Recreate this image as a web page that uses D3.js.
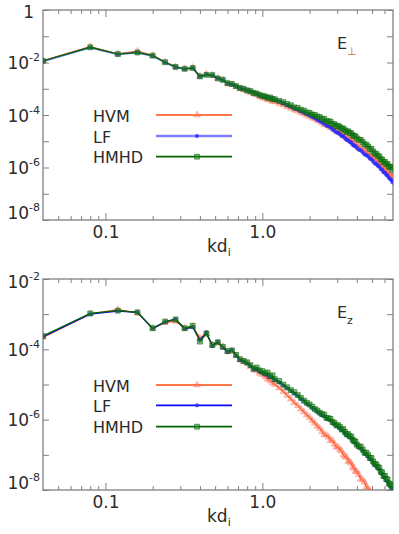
<!DOCTYPE html>
<html>
<head>
<meta charset="utf-8">
<script src="https://cdn.jsdelivr.net/npm/d3@7"></script>
<style>
  html, body { margin: 0; padding: 0; background: #fff; }
  svg { display: block; font-family: "DejaVu Sans", sans-serif; }
</style>
</head>
<body>
<div id="chart"></div>
<script>
// k d_i sample points (every mode at low k, thinned at high k)
const K = [
  0.04, 0.08, 0.12, 0.16, 0.20, 0.24, 0.28, 0.32, 0.36, 0.40,
  0.44, 0.48, 0.52, 0.56, 0.60, 0.64, 0.68, 0.72, 0.76, 0.80,
  0.84, 0.88, 0.92, 0.96, 1.00, 1.04, 1.08, 1.12, 1.16, 1.20,
  1.28, 1.36, 1.44, 1.52, 1.60, 1.68, 1.76, 1.84, 1.92, 2.00,
  2.08, 2.16, 2.24, 2.32, 2.40,
  2.48, 2.56, 2.64, 2.72, 2.80, 2.88, 2.96, 3.04, 3.12, 3.20,
  3.28, 3.36, 3.44, 3.52, 3.60, 3.68, 3.76, 3.84, 3.92, 4.00,
  4.12, 4.24, 4.36, 4.48, 4.60, 4.72, 4.84, 4.96, 5.08, 5.20, 5.32, 5.44,
  5.56, 5.68, 5.80, 5.92, 6.04, 6.16, 6.28, 6.40, 6.52, 6.64, 6.76
];

// log10 of spectral power — E perp panel
const PERP_HVM = [
  -1.93, -1.40, -1.67, -1.57, -1.73, -1.98, -2.16, -2.24, -2.19, -2.52,
  -2.45, -2.48, -2.60, -2.66, -2.80, -2.84, -2.92, -3.00, -3.04, -3.10,
  -3.14, -3.20, -3.23, -3.30, -3.34, -3.37, -3.42, -3.43, -3.48, -3.50,
  -3.56, -3.62, -3.69, -3.74, -3.81, -3.85, -3.91, -3.95, -4.01, -4.05,
  -4.11, -4.14, -4.20, -4.24, -4.30,
  -4.37, -4.36, -4.42, -4.49, -4.48, -4.56, -4.62, -4.62, -4.68, -4.69,
  -4.78, -4.81, -4.83, -4.92, -4.92, -4.94, -5.03, -5.06, -5.13, -5.12,
  -5.19, -5.29, -5.31, -5.34, -5.44, -5.48, -5.50, -5.60, -5.67, -5.67, -5.74, -5.82,
  -5.83, -5.94, -5.96, -6.00, -6.09, -6.12, -6.21, -6.21, -6.28, -6.36, -6.38
];
const PERP_LF = [
  -1.95, -1.43, -1.69, -1.62, -1.75, -2.00, -2.18, -2.25, -2.21, -2.54,
  -2.46, -2.49, -2.60, -2.67, -2.80, -2.83, -2.90, -2.98, -3.01, -3.07,
  -3.10, -3.15, -3.19, -3.25, -3.28, -3.31, -3.33, -3.36, -3.39, -3.42,
  -3.48, -3.55, -3.62, -3.68, -3.75, -3.79, -3.86, -3.91, -3.97, -4.02,
  -4.08, -4.12, -4.19, -4.23, -4.29,
  -4.33, -4.41, -4.43, -4.47, -4.55, -4.59, -4.66, -4.68, -4.73, -4.80,
  -4.81, -4.89, -4.95, -4.97, -5.02, -5.05, -5.13, -5.17, -5.19, -5.26,
  -5.32, -5.35, -5.42, -5.50, -5.53, -5.58, -5.66, -5.69, -5.77, -5.84, -5.87, -5.93,
  -5.97, -6.06, -6.09, -6.18, -6.20, -6.28, -6.31, -6.39, -6.44, -6.48, -6.57
];
const PERP_HMHD = [
  -1.94, -1.42, -1.68, -1.62, -1.74, -1.99, -2.17, -2.24, -2.21, -2.53,
  -2.47, -2.48, -2.61, -2.66, -2.79, -2.82, -2.90, -2.97, -3.00, -3.06,
  -3.09, -3.16, -3.18, -3.24, -3.27, -3.29, -3.34, -3.33, -3.39, -3.40,
  -3.46, -3.51, -3.58, -3.63, -3.71, -3.73, -3.80, -3.83, -3.90, -3.92,
  -3.98, -4.00, -4.06, -4.08, -4.14,
  -4.15, -4.24, -4.24, -4.25, -4.34, -4.35, -4.42, -4.41, -4.46, -4.52,
  -4.51, -4.58, -4.64, -4.62, -4.68, -4.69, -4.77, -4.80, -4.81, -4.89,
  -4.94, -4.95, -5.03, -5.12, -5.13, -5.20, -5.29, -5.29, -5.39, -5.47, -5.48, -5.55,
  -5.58, -5.68, -5.70, -5.79, -5.79, -5.87, -5.87, -5.96, -5.98, -6.00, -6.09
];

// log10 of spectral power — E_z panel
const Z_HVM = [
  -3.66, -2.99, -2.87, -2.96, -3.40, -3.24, -3.20, -3.40, -3.35, -3.68,
  -3.56, -3.87, -3.82, -3.92, -4.06, -4.05, -4.18, -4.30, -4.36, -4.40,
  -4.49, -4.58, -4.60, -4.68, -4.72, -4.78, -4.85, -4.89, -4.95, -5.00,
  -5.10, -5.20, -5.31, -5.41, -5.52, -5.60, -5.70, -5.78, -5.87, -5.94,
  -6.03, -6.10, -6.19, -6.25, -6.34,
  -6.43, -6.44, -6.50, -6.59, -6.60, -6.70, -6.78, -6.78, -6.86, -6.89,
  -7.00, -7.05, -7.07, -7.18, -7.20, -7.24, -7.35, -7.38, -7.47, -7.48,
  -7.56, -7.69, -7.72, -7.78, -7.91, -7.97, -8.02, -8.14, -8.24, -8.27, -8.36, -8.47,
  -8.50, -8.64, -8.69, -8.75, -8.87, -8.92, -9.04, -9.07, -9.16, -9.27, -9.31
];
const Z_LF = [
  -3.64, -3.00, -2.91, -2.95, -3.41, -3.22, -3.14, -3.42, -3.37, -3.74,
  -3.52, -3.91, -3.79, -3.95, -4.08, -4.02, -4.18, -4.31, -4.34, -4.40,
  -4.47, -4.57, -4.56, -4.63, -4.66, -4.71, -4.74, -4.79, -4.81, -4.87,
  -4.94, -5.03, -5.11, -5.18, -5.26, -5.32, -5.41, -5.47, -5.55, -5.59,
  -5.67, -5.71, -5.78, -5.82, -5.88,
  -5.90, -5.97, -5.99, -6.02, -6.09, -6.12, -6.18, -6.20, -6.24, -6.30,
  -6.31, -6.38, -6.44, -6.45, -6.50, -6.52, -6.59, -6.64, -6.66, -6.73,
  -6.79, -6.82, -6.89, -6.97, -6.99, -7.05, -7.12, -7.14, -7.23, -7.29, -7.32, -7.38,
  -7.42, -7.51, -7.54, -7.63, -7.65, -7.73, -7.75, -7.84, -7.88, -7.93, -8.01
];
const Z_HMHD = [
  -3.62, -2.98, -2.90, -2.95, -3.40, -3.21, -3.15, -3.40, -3.33, -3.78,
  -3.55, -3.88, -3.80, -3.93, -4.05, -4.03, -4.16, -4.28, -4.33, -4.37,
  -4.45, -4.55, -4.52, -4.60, -4.62, -4.68, -4.66, -4.76, -4.74, -4.85,
  -4.90, -5.00, -5.08, -5.16, -5.22, -5.30, -5.38, -5.46, -5.52, -5.57,
  -5.63, -5.70, -5.74, -5.80, -5.84,
  -5.86, -5.95, -5.96, -5.98, -6.07, -6.09, -6.16, -6.16, -6.21, -6.28,
  -6.27, -6.35, -6.42, -6.41, -6.47, -6.48, -6.57, -6.61, -6.62, -6.71,
  -6.76, -6.77, -6.85, -6.94, -6.94, -7.01, -7.09, -7.09, -7.19, -7.26, -7.27, -7.34,
  -7.37, -7.48, -7.50, -7.60, -7.60, -7.69, -7.70, -7.81, -7.84, -7.88, -7.98
];

const X_MAJOR = [0.1, 1];
const X_MINOR = [0.05, 0.06, 0.07, 0.08, 0.09, 0.2, 0.3, 0.4, 0.5, 0.6, 0.7, 0.8, 0.9, 2, 3, 4, 5, 6];
const PERP_DECADES = [1e-8, 1e-7, 1e-6, 1e-5, 1e-4, 1e-3, 1e-2, 1e-1, 1];
const Z_DECADES = [1e-8, 1e-7, 1e-6, 1e-5, 1e-4, 1e-3, 1e-2];
const NAMES = ["HVM", "LF", "HMHD"];

const W = 399, H = 534;
const L = 43, R = 393;
const svg = d3.select("#chart").append("svg").attr("width", W).attr("height", H);
const x = d3.scaleLog().domain([0.04, 6.8]).range([L, R]);
const frame = "#808080", ink = "#2b2b2b";

function panel(o) {
  const y = d3.scaleLog().domain(o.domain).range([o.bottom, o.top]);
  const g = svg.append("g");

  g.append("defs").append("clipPath").attr("id", o.id)
    .append("rect").attr("x", L).attr("y", o.top).attr("width", R - L).attr("height", o.bottom - o.top);

  const styleAxis = a => {
    a.select(".domain").remove();
    a.selectAll("line").attr("stroke", frame).attr("stroke-width", 1);
  };

  // x ticks, bottom and top
  g.append("g").attr("transform", `translate(0,${o.bottom})`)
    .call(d3.axisBottom(x).tickValues(X_MINOR).tickSize(-4).tickFormat("")).call(styleAxis);
  const xb = g.append("g").attr("transform", `translate(0,${o.bottom})`)
    .call(d3.axisBottom(x).tickValues(X_MAJOR).tickSize(-7).tickFormat(d3.format(".1f"))).call(styleAxis);
  xb.selectAll("text").attr("y", 18).attr("dy", 0).attr("font-size", 17)
    .attr("font-family", "DejaVu Sans").attr("fill", ink);
  g.append("g").attr("transform", `translate(0,${o.top})`)
    .call(d3.axisTop(x).tickValues(X_MINOR).tickSize(-4).tickFormat("")).call(styleAxis);
  g.append("g").attr("transform", `translate(0,${o.top})`)
    .call(d3.axisTop(x).tickValues(X_MAJOR).tickSize(-7).tickFormat("")).call(styleAxis);

  // y ticks, left (labelled every other decade) and right
  const lo = Math.round(Math.log10(o.domain[0])), hi = Math.round(Math.log10(o.domain[1]));
  const yl = g.append("g").attr("transform", `translate(${L},0)`)
    .call(d3.axisLeft(y).tickValues(o.decades).tickSize(-6)
      .tickFormat(d => Math.round(Math.log10(d)) % 2 === 0 ? "10" : "")).call(styleAxis);
  yl.selectAll("text").attr("font-size", 17).attr("font-family", "DejaVu Sans").attr("fill", ink)
    .attr("dy", 0)
    .each(function (d) {
      const e = Math.round(Math.log10(d));
      const t = d3.select(this);
      if (e % 2 !== 0) return;
      t.attr("y", e === lo ? -2 : e === hi ? 8 : 6);
      if (e === 0) { t.text("1").attr("x", -9).attr("y", 7); return; }
      t.append("tspan").attr("dy", -8).attr("font-size", 11).text("-" + Math.abs(e));
    });
  g.append("g").attr("transform", `translate(${R},0)`)
    .call(d3.axisRight(y).tickValues(o.decades).tickSize(-6).tickFormat("")).call(styleAxis);

  g.append("rect").attr("x", L).attr("y", o.top).attr("width", R - L).attr("height", o.bottom - o.top)
    .attr("fill", "none").attr("stroke", frame).attr("stroke-width", 1.3);

  // data
  const line = d3.line().x(d => x(d[0])).y(d => y(Math.pow(10, d[1])));
  const plot = g.append("g").attr("clip-path", `url(#${o.id})`);
  o.series.forEach(s => {
    const pts = d3.zip(K, s.vals);
    plot.append("path").datum(pts).attr("fill", "none").attr("stroke", s.color)
      .attr("stroke-width", s.width).attr("d", line);
    plot.append("g").selectAll("path").data(pts).join("path")
      .attr("transform", d => `translate(${x(d[0])},${y(Math.pow(10, d[1]))})`)
      .attr("d", d3.symbol().type(s.sym).size(s.size))
      .attr("fill", s.fill).attr("stroke", s.stroke).attr("stroke-width", 0.8);
  });

  // legend
  o.series.forEach((s, i) => {
    const ly = o.legendY[i];
    g.append("text").attr("x", 93).attr("y", ly + 6.5).attr("font-size", 16).attr("fill", ink).text(NAMES[i]);
    g.append("line").attr("x1", 156).attr("x2", 232).attr("y1", ly).attr("y2", ly)
      .attr("stroke", s.color).attr("stroke-width", s.width + 0.4);
    g.append("path").attr("transform", `translate(197,${ly})`)
      .attr("d", d3.symbol().type(s.sym).size(s.size))
      .attr("fill", s.fill).attr("stroke", s.stroke).attr("stroke-width", 0.8);
  });

  // panel title and x label
  const t = g.append("text").attr("x", 337).attr("y", o.top + 39).attr("font-size", 16).attr("fill", ink).text("E");
  t.append("tspan").attr("dy", 6).attr("font-size", 11).attr("fill", o.subColor).text(o.sub);
  const xl = g.append("text").attr("x", 207).attr("y", o.bottom + 32).attr("font-size", 17).attr("fill", ink).text("kd");
  xl.append("tspan").attr("dy", 4).attr("font-size", 11).text("i");
}

const red = { color: "#ff4a12", width: 1.3, sym: d3.symbolTriangle, size: 20,
  fill: "rgba(255,120,100,0.45)", stroke: "rgba(255,80,40,0.35)" };

panel({
  id: "clipPerp", top: 10, bottom: 220, domain: [1e-8, 1], decades: PERP_DECADES,
  sub: "\u22A5", subColor: "#c9782f", legendY: [115, 136, 156.7],
  series: [
    Object.assign({ vals: PERP_HVM }, red),
    { vals: PERP_LF, color: "#8080ff", width: 2, sym: d3.symbolCircle, size: 14,
      fill: "rgba(40,40,255,0.8)", stroke: "none" },
    { vals: PERP_HMHD, color: "#006400", width: 1.3, sym: d3.symbolSquare, size: 24,
      fill: "rgba(30,130,30,0.55)", stroke: "rgba(0,100,0,0.7)" }
  ]
});

panel({
  id: "clipZ", top: 279, bottom: 490, domain: [1e-8, 1e-2], decades: Z_DECADES,
  sub: "z", subColor: ink, legendY: [385, 405.3, 426.7],
  series: [
    Object.assign({ vals: Z_HVM }, red),
    { vals: Z_LF, color: "#0a0aff", width: 1.3, sym: d3.symbolCircle, size: 14,
      fill: "rgba(40,40,255,0.7)", stroke: "none" },
    { vals: Z_HMHD, color: "#006400", width: 1.3, sym: d3.symbolSquare, size: 24,
      fill: "rgba(30,130,30,0.5)", stroke: "rgba(0,100,0,0.75)" }
  ]
});
</script>
</body>
</html>
